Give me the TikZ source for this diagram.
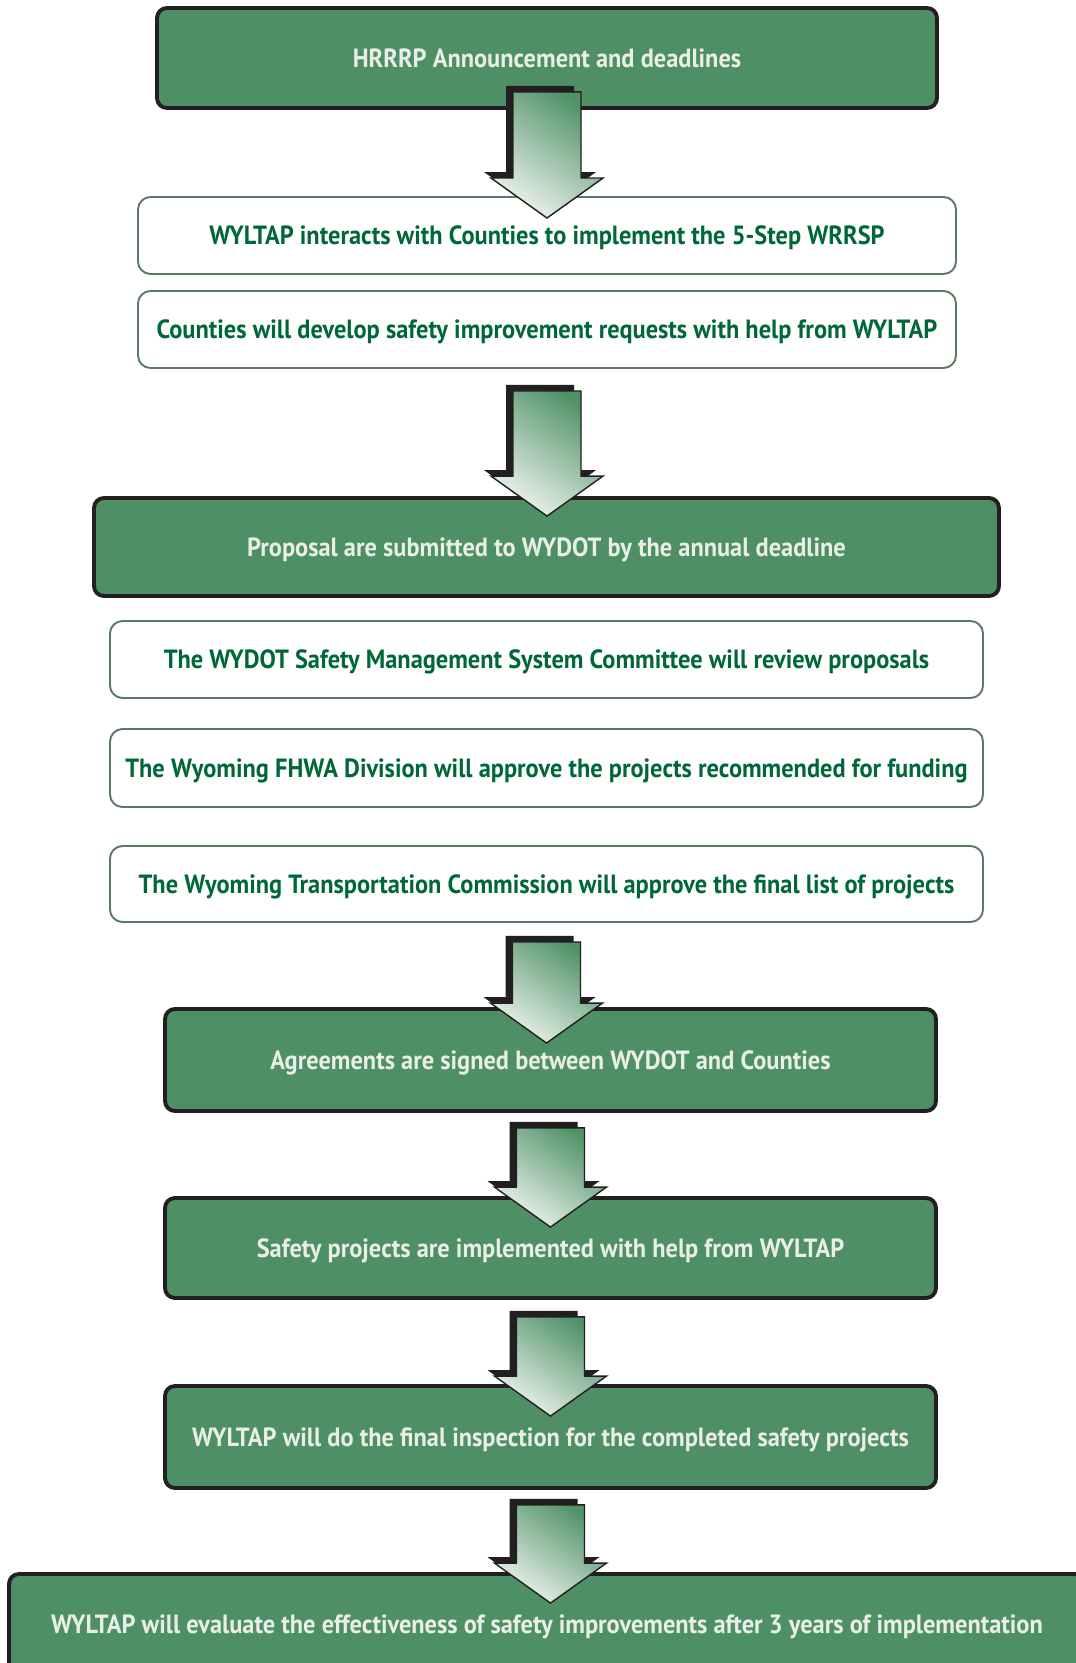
\documentclass[tikz,border=0pt]{standalone}
\usepackage{fontspec}
\setmainfont[FakeStretch=0.925]{PT Sans}
\usepackage{tikz}
\usetikzlibrary{calc}
\definecolor{boxgreen}{RGB}{78,143,102}
\definecolor{boxline}{RGB}{35,31,32}
\definecolor{textgreen}{RGB}{0,104,56}
\definecolor{textlight}{RGB}{233,239,230}
\definecolor{whiteline}{RGB}{92,122,94}
\definecolor{arrowlight}{RGB}{238,244,238}
\definecolor{arrowdark}{RGB}{80,146,104}
\newcommand{\px}{0.02cm}
\newcommand{\shafthw}{34}
\newcommand{\headhw}{56}
\newcommand{\headlen}{40}
\newcommand{\shadowdx}{-7}
\newcommand{\shadowdy}{-6}
\newcommand{\arrowpath}[2]{
  ($(#1)+(-\shafthw,0)$) -- ($(#1)+(\shafthw,0)$)
  -- ($(#2)+(\shafthw,-\headlen)$) -- ($(#2)+(\headhw,-\headlen)$)
  -- (#2) -- ($(#2)+(-\headhw,-\headlen)$)
  -- ($(#2)+(-\shafthw,-\headlen)$) -- cycle
}
\newcommand{\flowarrow}[4]{
  \coordinate (ts) at ($(#1.south)+(0,#3)$);
  \coordinate (te) at ($(ts |- #2.north)+(0,#4)$);
  \coordinate (tss) at ($(ts)+(\shadowdx,\shadowdy)$);
  \coordinate (tes) at ($(te)+(\shadowdx,\shadowdy)$);
  \fill[boxline] \arrowpath{tss}{tes};
  \shade[top color=arrowdark, bottom color=arrowlight, shading angle=-35,
    draw=boxline, line width=0.8pt] \arrowpath{ts}{te};
}

\tikzset{
  boxtext/.style={font=\fontsize{15}{18}\selectfont\bfseries, inner sep=0pt,
    text height=10.5pt, text depth=0pt},
  greenbox/.style={boxtext, draw=boxline, fill=boxgreen, text=textlight,
    line width=2.2pt, rounded corners=0.2cm},
  whitebox/.style={boxtext, draw=whiteline, fill=white, text=textgreen,
    line width=1.1pt, rounded corners=0.25cm}
}

\begin{document}
\begin{tikzpicture}[x=\px, y=-\px]
  \fill[white] (0,0) rectangle (1075,1663);
  \useasboundingbox (0,0) rectangle (1075,1663);
  % steps
  \node[greenbox, minimum width=780*\px, minimum height=100*\px] (b1) at (547,58)
    {HRRRP Announcement and deadlines};
  \node[whitebox, minimum width=818*\px, minimum height=77*\px] (b2) at (547,235.5)
    {WYLTAP interacts with Counties to implement the 5-Step WRRSP};
  \node[whitebox, minimum width=818*\px, minimum height=77*\px] (b3) at (547,329.5)
    {Counties will develop safety improvement requests with help from WYLTAP};
  \node[greenbox, minimum width=905*\px, minimum height=98*\px] (b4) at (546.5,547)
    {Proposal are submitted to WYDOT by the annual deadline};
  \node[whitebox, minimum width=873*\px, minimum height=77*\px] (b5) at (546.5,659.5)
    {The WYDOT Safety Management System Committee will review proposals};
  \node[whitebox, minimum width=873*\px, minimum height=78*\px] (b6) at (546.5,768)
    {The Wyoming FHWA Division will approve the projects recommended for funding};
  \node[whitebox, minimum width=873*\px, minimum height=76*\px] (b7) at (546.5,884)
    {The Wyoming Transportation Commission will approve the final list of projects};
  \node[greenbox, minimum width=771*\px, minimum height=102*\px] (b8) at (550.5,1060)
    {Agreements are signed between WYDOT and Counties};
  \node[greenbox, minimum width=771*\px, minimum height=100*\px] (b9) at (550.5,1248)
    {Safety projects are implemented with help from WYLTAP};
  \node[greenbox, minimum width=771*\px, minimum height=102*\px] (b10) at (550.5,1437)
    {WYLTAP will do the final inspection for the completed safety projects};
  \node[greenbox, minimum width=1076*\px, minimum height=100*\px] (b11) at (547,1624)
    {WYLTAP will evaluate the effectiveness of safety improvements after 3 years of implementation};
  % arrows
  \flowarrow{b1}{b2}{-18}{22}
  \flowarrow{b3}{b4}{22}{20}
  \flowarrow{b7}{b8}{19}{36}
  \flowarrow{b8}{b9}{15}{31}
  \flowarrow{b9}{b10}{17}{32}
  \flowarrow{b10}{b11}{15}{31}
\end{tikzpicture}
\end{document}
